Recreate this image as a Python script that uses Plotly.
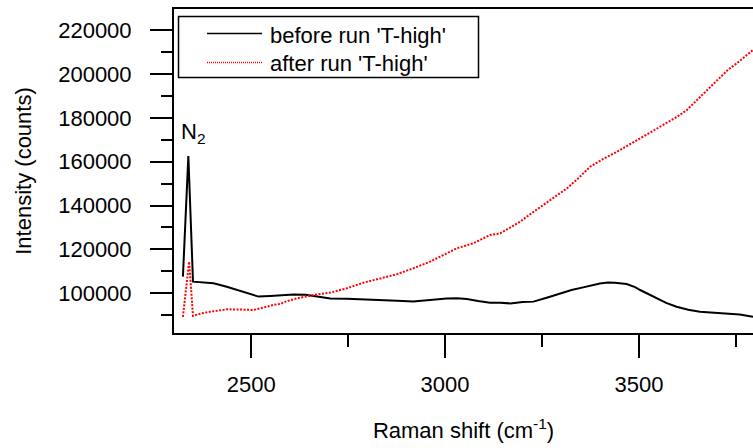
import plotly.graph_objects as go

# ---- data ----
before_x = [2324, 2338, 2350, 2377, 2403, 2437, 2463, 2489, 2519, 2549, 2583, 2609, 2640,
            2661, 2704, 2747, 2789, 2832, 2876, 2918, 2960, 3004, 3030, 3056, 3085, 3116,
            3142, 3168, 3200, 3228, 3262, 3296, 3326, 3356, 3380, 3399, 3420, 3438, 3468,
            3490, 3503, 3525, 3546, 3570, 3597, 3627, 3657, 3690, 3726, 3760, 3794]
before_y = [107600, 162600, 105300, 104800, 104600, 103000, 101500, 100300, 98500, 98800,
            99200, 99500, 99300, 98800, 97600, 97500, 97300, 97000, 96600, 96300, 97000,
            97600, 97700, 97400, 96500, 95700, 95700, 95400, 96000, 96200, 98000, 100000,
            101500, 102700, 103700, 104500, 104900, 104800, 104200, 102800, 101500, 99500,
            97700, 95600, 93900, 92500, 91600, 91200, 90900, 90300, 89300]

after_x = [2324, 2340, 2350, 2370, 2394, 2437, 2470, 2506, 2530, 2557, 2575, 2590, 2618,
           2661, 2704, 2747, 2789, 2832, 2876, 2918, 2961, 3004, 3030, 3073, 3116, 3142,
           3168, 3193, 3223, 3253, 3283, 3314, 3344, 3374, 3408, 3443, 3477, 3511, 3541,
           3571, 3597, 3623, 3645, 3666, 3688, 3709, 3730, 3752, 3773, 3794]
after_y = [89300, 114400, 89700, 90800, 91600, 92700, 92600, 92400, 93400, 94700, 95100,
           96300, 97700, 99200, 100300, 102300, 104800, 106800, 108700, 111400, 114400,
           118200, 120500, 122800, 126600, 127300, 130100, 132600, 136500, 140200, 144000,
           147800, 152500, 157700, 161300, 164500, 168000, 171400, 174500, 177500, 180300,
           183500, 187300, 191100, 195000, 198700, 202000, 204800, 207800, 210900]

series_names = ["before run 'T-high'", "after run 'T-high'"]
peak_label = "N<sub>2</sub>"

# ---- layout geometry ----
W, H = 753, 448
L, R, T, B = 174, 0, 9, 115
FONT = "Liberation Sans, Arial, sans-serif"
FS = 22


def fx(p):
    return (p - L) / (W - L - R)


def fy(p):
    return (H - B - p) / (H - T - B)


fig = go.Figure()
fig.add_trace(go.Scatter(x=before_x, y=before_y, mode="lines", name=series_names[0],
                         line=dict(color="black", width=2), showlegend=False))
fig.add_trace(go.Scatter(x=after_x, y=after_y, mode="lines", name=series_names[1],
                         line=dict(color="#ff0000", width=2, dash="2px,1.5px"),
                         showlegend=False))

# peak annotation
pk = before_y.index(max(before_y))
fig.add_annotation(x=before_x[pk], y=before_y[pk], text=peak_label, showarrow=False,
                   xanchor="left", yanchor="bottom", xshift=-9, yshift=7,
                   font=dict(family=FONT, size=FS, color="black"))

# manual legend (box, sample lines, labels)
shapes = [
    dict(type="rect", xref="paper", yref="paper", x0=fx(178.5), x1=fx(478.5),
         y0=fy(77.5), y1=fy(16.5), line=dict(color="black", width=1.5),
         fillcolor="white", layer="above"),
    dict(type="line", xref="paper", yref="paper", x0=fx(207), x1=fx(262),
         y0=fy(33.5), y1=fy(33.5), line=dict(color="black", width=1.5), layer="above"),
    dict(type="line", xref="paper", yref="paper", x0=fx(207), x1=fx(262),
         y0=fy(62.5), y1=fy(62.5), line=dict(color="#ff0000", width=1.3, dash="1px,1px"),
         layer="above"),
]
for s in shapes:
    fig.add_shape(**s)
for name, ypx in zip(series_names, [35, 64]):
    fig.add_annotation(xref="paper", yref="paper", x=fx(268), y=fy(ypx), text=name,
                       showarrow=False, xanchor="left", yanchor="middle",
                       font=dict(family=FONT, size=FS, color="black"))

axis_common = dict(showline=True, linecolor="black", linewidth=2, showgrid=False,
                   zeroline=False, ticks="outside", tickcolor="black", tickwidth=2,
                   tickfont=dict(family=FONT, size=FS, color="black"))

fig.update_xaxes(range=[2301, 3794], tick0=2500, dtick=500, ticklen=23, mirror=True,
                 ticklabelstandoff=8,
                 minor=dict(ticks="outside", ticklen=12, tickwidth=2, tickcolor="black",
                            dtick=250, tick0=2250),
                 title=dict(text="Raman shift (cm<sup>-1</sup>)", standoff=26,
                            font=dict(family=FONT, size=FS, color="black")),
                 **axis_common)
fig.update_yaxes(range=[81900, 229600], tick0=100000, dtick=20000, ticklen=22,
                 tickformat="d", ticklabelstandoff=14,
                 minor=dict(ticks="outside", ticklen=11, tickwidth=2, tickcolor="black",
                            dtick=10000, tick0=90000),
                 title=dict(text="Intensity (counts)", standoff=20,
                            font=dict(family=FONT, size=FS, color="black")),
                 **axis_common)

fig.update_layout(width=W, height=H, margin=dict(l=L, r=R, t=T, b=B, autoexpand=False),
                  paper_bgcolor="white", plot_bgcolor="white", showlegend=False,
                  font=dict(family=FONT, size=FS, color="black"))

fig.write_html("out.html", config={"displayModeBar": False},
               post_script="document.body.style.margin='0';document.body.style.padding='0';"
                           "document.documentElement.style.overflow='hidden';")
